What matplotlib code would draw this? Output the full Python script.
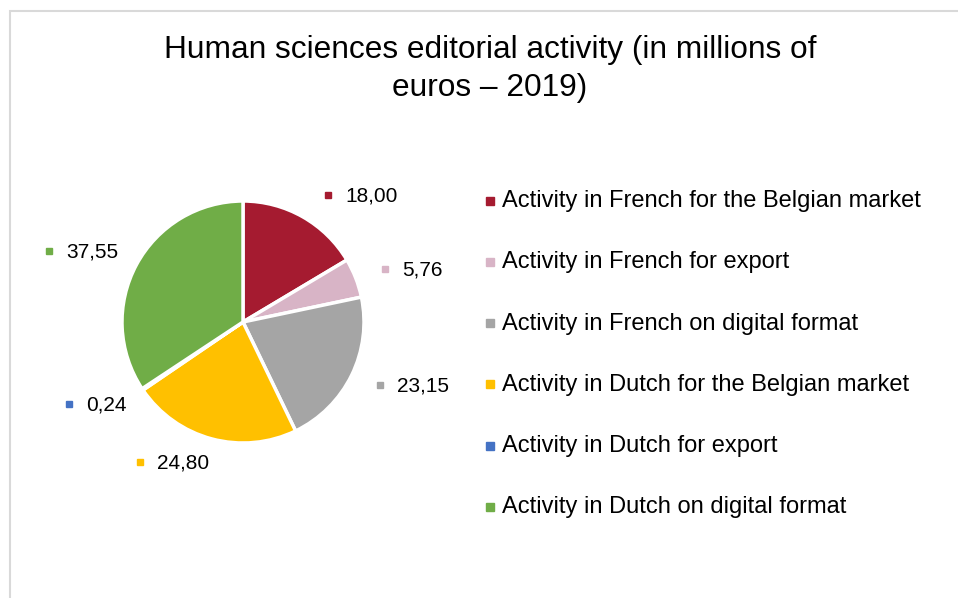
import matplotlib.pyplot as plt
from matplotlib.patches import Rectangle

plt.rcParams['font.family'] = ['Liberation Sans', 'DejaVu Sans']

categories = ["Activity in French for the Belgian market",
              "Activity in French for export",
              "Activity in French on digital format",
              "Activity in Dutch for the Belgian market",
              "Activity in Dutch for export",
              "Activity in Dutch on digital format"]
values = [18.00, 5.76, 23.15, 24.80, 0.24, 37.55]
colors = ["#A51B30", "#D8B4C6", "#A5A5A5", "#FFC000", "#4472C4", "#70AD47"]
title = "Human sciences editorial activity (in millions of\neuros \u2013 2019)"

W, H = 958, 598
# data-label marker spots (pixels, from top-left of the image)
label_pos = [(328.5, 194.5), (385, 269), (380.5, 385), (140, 462), (69, 404), (49.5, 250.5)]

fig = plt.figure(figsize=(W / 100, H / 100), dpi=100)
ax = fig.add_axes([0, 0, 1, 1])

def px(x, y):
    # image pixel -> data coords (y up)
    return x, H - y

ax.pie(values, colors=colors, startangle=90, counterclock=False,
       radius=121, center=px(243, 322),
       wedgeprops=dict(edgecolor='white', linewidth=2.5))
ax.set_xlim(0, W)
ax.set_ylim(0, H)
ax.set_aspect('equal')
ax.axis('off')

# chart border (top and left visible)
ax.add_patch(Rectangle(px(10, H + 10), W, H - 1, fill=False,
                       edgecolor='#D9D9D9', linewidth=1.5, clip_on=False))

ax.text(*px(490, 69), title, ha='center', va='center', fontsize=22.8,
        linespacing=1.34, color='black')

# data labels
for v, c, (lx, ly) in zip(values, colors, label_pos):
    ax.plot(*px(lx, ly), marker='s', markersize=4, color=c, linestyle='none')
    ax.text(*px(lx + 17, ly + 1), f"{v:.2f}".replace('.', ','),
            ha='left', va='center', fontsize=15)

# legend
for i, (name, c) in enumerate(zip(categories, colors)):
    y = 200.5 + i * 61.3
    ax.plot(*px(490.5, y), marker='s', markersize=5.5, color=c, linestyle='none')
    ax.text(*px(502, y + 0.5), name, ha='left', va='center', fontsize=17)

fig.savefig("out.png", dpi=100)
